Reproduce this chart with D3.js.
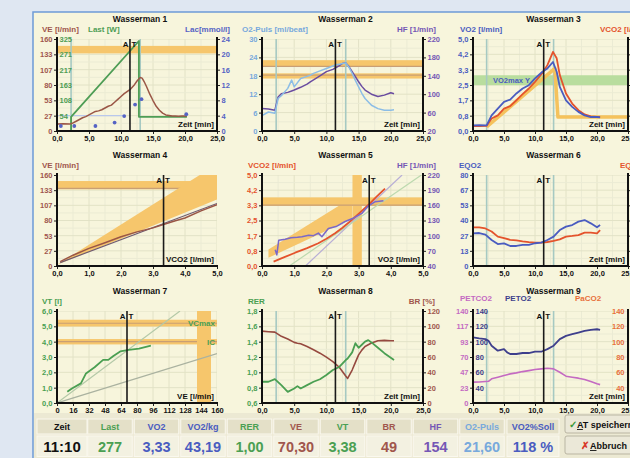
<!DOCTYPE html>
<html><head><meta charset="utf-8">
<script src="https://cdn.jsdelivr.net/npm/d3@7"></script>
<style>
html,body{margin:0;padding:0;background:#dfe7f2;}
svg{display:block;}
</style></head><body>
<svg id="c" width="630" height="458"></svg>
<script>
// ---------------- DATA ----------------
const atTime = 11.4;            // AT marker (11:10)
const phaseTimes = [2.2, 13.0];  // start / end of load
const timeTickLabels = ["0,0","5,0","10,0","15,0","20,0","25,0"];
const flowTickLabels = ["0,0","1,0","2,0","3,0","4,0","5,0"];
const veTickLabels7 = ["0","16","32","48","64","80","96","112","128","144","160"];

// Wasserman 1
const w1VeLabels = ["0","27","53","80","107","133","160"];
const w1LastLabels = ["","54","108","163","217","271","325"];
const w1LacLabels = ["0","4","8","12","16","20","24"];
const w1Time = [0,1,2,2.5,3,3.5,4,4.5,5,5.5,6,6.5,7,7.5,8,8.5,9,9.5,10,10.5,11,11.5,12,12.5,13,13.3,13.7,14,14.5,15,15.5,16,16.5,17,17.5,18,18.5,19,19.5,20,20.3];
const w1VE = [12,12.5,12,14,17,20,23,25,28,31,34,35,37,40,43,45,50,55,60,65,69,73,79,87,93,92,84,77,64,53,43,36,31,28,27,26,26,25.5,26,26,26];
const w1LastTime = [2.2,2.2,12.8,12.8,20.3];
const w1Last = [0,50,318,50,50];
const w1LacTime = [0.6,2.7,6.0,9.0,10.5,12.2,13.2,20.2];
const w1Lac = [1.3,1.3,1.3,2.2,3.9,6.9,8.3,4.4];
const w1LacRef = 4;
const w1VeBand = [135,148];

// Wasserman 2
const w2O2pLabels = ["0","6","12","18","24","30"];
const w2HfLabels = ["20","60","100","140","180","220"];
const w2Time = [0,1,2,2.5,3,4,4.6,5,6,7,7.5,8,9,10,11,11.5,12,12.5,13,13.5,14,14.5,15,15.5,16,17,18,19,20,20.5];
const w2O2p = [5.0,6.2,5.8,10.6,11.5,13.9,16.6,14.4,17.1,17.8,18.2,18.8,19.6,20.4,21.2,21.6,21.8,22.0,22.2,20.8,18.8,16.5,14.4,12.3,10.6,8.4,7.3,6.8,6.8,6.9];
const w2HF = [69,68,65,94,101,104,107,109,115,122,127,131,140,149,154,158,162,167,168,160,149,138,127,117,109,100,95,98,103,101];
const w2Bands = [[20.9,23.1,21.1],[17.1,18.8,18.2]];

// Wasserman 3
const w3Labels = ["0,0","0,8","1,7","2,5","3,3","4,2","5,0"];
const w3Time = [0,1,2.2,3,4,5,6,7,8,9,10,11.2,12,12.9,13.5,14,15,16,17,18,19,20,20.5];
const w3VO2 = [0.31,0.32,0.31,0.85,1.22,1.58,1.71,2.04,2.31,2.49,2.86,3.22,3.40,3.75,3.22,2.40,1.67,1.31,1.04,0.85,0.76,0.76,0.74];
const w3VCO2 = [0.26,0.27,0.28,0.68,0.85,1.22,1.35,1.67,2.0,2.31,2.67,3.16,3.58,4.3,3.95,3.04,2.04,1.49,1.13,0.9,0.8,0.76,0.76];
const w3TargetTime = [2.2,13.2,13.7,25];
const w3Target = [0.22,3.4,0.76,0.76];
const w3Vo2maxBand = [2.49,3.03];

// Wasserman 4
const w4VeLabels = ["0","27","53","80","107","133","160"];
const w4VCO2 = [0.1,0.5,1.0,1.5,2.0,2.5,3.0,3.35,3.7,4.0,4.5,5.0];
const w4VE = [7.6,19,31,41,51.5,60,67,73.5,79.5,84.5,97,108];
const w4RefX = [0.1,5.0];
const w4RefY = [6,110];
const w4Band = [134.8,149.4,136.5,3.98];
const w4WedgeX = [0,4.46,5,5];
const w4WedgeY = [2,160,160,117];
const w4AT = 3.33;

// Wasserman 5
const w5VcoLabels = ["0,0","0,8","1,7","2,5","3,3","4,2","5,0"];
const w5HfLabels = ["40","70","100","130","160","190","220"];
const w5VO2 = [0.36,0.6,1.03,1.4,1.75,2.0,2.27,2.5,2.79,3.05,3.30,3.55,3.82];
const w5VCO2 = [0.24,0.42,0.73,0.98,1.25,1.5,1.80,2.1,2.53,2.95,3.35,3.8,4.25];
const w5HfVO2 = [0.41,0.44,0.46,0.52,0.72,0.9,1.1,1.24,1.45,1.6,1.75,1.86,2.06,2.3,2.58,2.85,3.10,3.30,3.51,3.65,3.77];
const w5HF = [72,66,62,91,93,96,97,98,101,100,105,98,114,118,128,135,144,159,167,168,169];
const w5HBand = [3.31,3.77,3.35];
const w5VBand = [2.81,3.10];
const w5WedgeX = [0.2,0.2,2.8,2.8];
const w5WedgeY = [0.45,0.9,3.77,2.6];
const w5RefA = [[1.35,0],[4.35,5.0]];
const w5RefB = [[0.85,0],[4.95,5.0]];
const w5AT = 3.33;

// Wasserman 6
const w6Labels = ["0","13","27","40","53","67","80"];
const w6Time = [0,1,2,3,4,5,6,7,8,9,10,11,12,13,14,15,16,17,18,19,20,20.5];
const w6EQO2 = [28.7,29,27.6,22.9,19.3,19.9,17.6,17.6,18.5,18.5,20,20.5,22.9,25.8,31.6,34.6,36,39,40.4,37.5,34,36];
const w6EQCO2 = [34,34,33,30.3,25.8,24.6,23,22.6,21.7,21,20.5,20.5,21.1,22,23.4,25.8,26.4,27.2,29.3,29.3,28.7,31.6];

// Wasserman 7
const w7Labels = ["0,0","1,0","2,0","3,0","4,0","5,0","6,0"];
const w7VE = [10.3,14.9,23.9,29,37.6,46.1,51.3,56.4,63.2,71.8,82,93.9];
const w7VT = [0.73,0.95,1.28,1.93,2.33,2.81,2.81,3.07,3.36,3.47,3.54,3.74];
const w7RefA = [[0,0],[123,6.0]];
const w7RefB = [[0,0],[160,3.22]];
const w7VcBand = [4.99,5.43,5.2];
const w7IcBand = [3.82,4.17,4.0];
const w7VeBand = [140,154];
const w7AT = 70;

// Wasserman 8
const w8RerLabels = ["0,6","0,8","1,0","1,2","1,4","1,6","1,8"];
const w8BrLabels = ["0","20","40","60","80","100","120"];
const w8Time = [0,1,2,3,4,5,5.5,6,7,8,9,10,11,12,13,13.3,14,14.5,15,15.5,16,16.5,17,18,19,20,20.5];
const w8RER = [0.877,0.877,0.912,0.833,0.745,0.79,0.82,0.79,0.833,0.877,0.91,0.965,1.03,1.07,1.16,1.18,1.26,1.38,1.32,1.36,1.40,1.42,1.39,1.32,1.25,1.19,1.16];
const w8BR = [93.7,93,92.4,87,83.5,79.1,78,77.3,73.8,69.4,65,59.8,54,46.6,35.2,32.1,43,53,62.8,69,73.8,76,78.2,81.2,81.7,81.2,81.2];

// Wasserman 9
const w9PetcoLabels = ["0","23","47","70","93","117","140"];
const w9PetoLabels = ["","40","60","80","100","120","140"];
const w9PacoLabels = ["","40","60","80","100","120","140"];
const w9Time = [0,1,2,2.5,3,4,5,5.5,6,7,8,9,10,11,12,13,14,15,16,17,18,19,20,20.5];
const w9PETO2 = [105.5,104.2,103.3,101.1,94.7,88.2,90.3,86,83.9,83.9,85.2,85.2,86.9,86.9,90.3,94.7,103.3,107.6,109.8,111.9,114.1,115.4,116.2,115.4];
const w9PETCO2 = [31.7,32,32.7,33,36.8,39.3,41.8,43,44.3,45.8,47.8,49.3,50.9,51.9,52.9,51.9,46.8,40.8,39.3,37.8,35.8,32.7,29.2,28];

// Table
const tblHeads = ["Zeit","Last","VO2","VO2/kg","RER","VE","VT","BR","HF","O2-Puls","VO2%Soll"];
const tblVals = ["11:10","277","3,33","43,19","1,00","70,30","3,38","49","154","21,60","118 %"];

// ---------------- STYLE / LAYOUT ----------------
const FF = '"Liberation Sans", Arial, sans-serif';
const C = {ve:'#a0564c', veLine:'#9a5646', last:'#4e9d55', lac:'#5563c4', o2p:'#78a9dc', o2pLine:'#8cbde6',
  hf:'#7557b5', hfLine:'#6a4ca0', vo2:'#4a5cc0', vco2:'#e4532c', green:'#4a9f52', br:'#96493f',
  petco2:'#c46ac2', peto2:'#3e3f8c', paco2:'#e8703a', orange:'#f6c66c', bandLine:'#c99f74',
  greenBand:'#b9dd9e', phase:'#a6c9c2', grid:'#e2e2c6', grid2:'#ebebd4'};
const cols = [[57,217],[262,423],[473,628]];
const rows = [[39,131],[175,266],[311,403]];
const tblCenters = [62,110,156.5,203,249.5,296,342.5,389,435.5,482,533];
const tblWidths = [50,44.5,44.5,44.5,44.5,44.5,44.5,44.5,44.5,44.5,52];
const tblHeadColors = ['#111',C.green,C.vo2,C.vo2,C.green,C.ve,C.green,C.ve,C.hf,C.o2p,C.vo2];

const svg = d3.select('#c').attr('font-family',FF);
svg.append('rect').attr('width',630).attr('height',458).attr('fill','#dfe7f2');
svg.append('rect').attr('x',33).attr('y',12).attr('width',620).attr('height',460)
  .attr('fill','#f7f5dc').attr('stroke','#6e9bd6').attr('stroke-width',1.5);
svg.append('rect').attr('x',34).attr('y',413).attr('width',600).attr('height',50).attr('fill','#ece9d3');
const defs = svg.append('defs');

function ticksOf(dom,n){return d3.range(n).map(i=>dom[0]+i*(dom[1]-dom[0])/(n-1));}

function P(ci,ri,xDom,xLabels,halfGrid=true){
  const [x0,x1]=cols[ci],[y0,y1]=rows[ri];
  const x=d3.scaleLinear().domain(xDom).range([x0,x1]);
  const cid='cp'+ci+'_'+ri;
  defs.append('clipPath').attr('id',cid).append('rect').attr('x',x0).attr('y',y0).attr('width',x1-x0).attr('height',y1-y0);
  const g=svg.append('g'); const L={};
  ['grid','band','phase','data','at','axis','text'].forEach(k=>{L[k]=g.append('g'); if(k!=='axis'&&k!=='text') L[k].attr('clip-path',`url(#${cid})`);});
  return {x,x0,x1,y0,y1,L,xDom,xLabels,halfGrid,ys:dom=>d3.scaleLinear().domain(dom).range([y1,y0])};
}
function grid(p,y,nY){
  const m=p.halfGrid?2:1;
  const xv=ticksOf(p.xDom,(p.xLabels.length-1)*m+1), yv=ticksOf(y.domain(),(nY-1)*m+1);
  p.L.grid.selectAll('.gx').data(xv).join('line').attr('x1',d=>p.x(d)).attr('x2',d=>p.x(d)).attr('y1',p.y0).attr('y2',p.y1)
    .attr('stroke',(d,i)=>i%m?C.grid2:C.grid).attr('stroke-width',1);
  p.L.grid.selectAll('.gy').data(yv).join('line').attr('y1',d=>y(d)).attr('y2',d=>y(d)).attr('x1',p.x0).attr('x2',p.x1)
    .attr('stroke',(d,i)=>i%m?C.grid2:C.grid).attr('stroke-width',1);
}
function styleAxis(a,color){
  a.attr('font-family',FF).attr('font-size',7.5).attr('font-weight','bold');
  a.select('.domain').remove();
  a.selectAll('.tick line').attr('stroke','#222');
  a.selectAll('.tick text').attr('fill',color);
}
function axisX(p,name){
  const vals=ticksOf(p.xDom,p.xLabels.length);
  const a=p.L.axis.append('g').attr('transform',`translate(0,${p.y1})`)
    .call(d3.axisBottom(p.x).tickValues(vals).tickFormat((d,i)=>p.xLabels[i]).tickSize(3).tickPadding(1.5));
  styleAxis(a,'#111');
  p.L.axis.append('line').attr('x1',p.x0-1).attr('x2',p.x1+1).attr('y1',p.y1).attr('y2',p.y1).attr('stroke','#111').attr('stroke-width',2);
  txt(p.L.text,p.x1-3,p.y1-4,name,{a:'end',fs:8});
}
function axisY(p,y,labels,color,side){
  const vals=ticksOf(y.domain(),labels.length);
  let ax,xpos;
  if(side==='left'){ax=d3.axisLeft(y).tickSize(3).tickPadding(1.5);xpos=p.x0;}
  else if(side==='leftIn'){ax=d3.axisRight(y).tickSize(0).tickPadding(2.5);xpos=p.x0;}
  else if(side==='right'){ax=d3.axisRight(y).tickSize(3).tickPadding(1.5);xpos=p.x1;}
  else {ax=d3.axisLeft(y).tickSize(0).tickPadding(3.5);xpos=p.x1;}
  ax.tickValues(vals).tickFormat((d,i)=>labels[i]);
  const a=p.L.axis.append('g').attr('transform',`translate(${xpos},0)`).call(ax);
  styleAxis(a,color);
}
// right axis ticks only (its labels lie outside the visible window)
function axisTicksRight(p,y,n){
  const a=p.L.axis.append('g').attr('transform',`translate(${p.x1},0)`)
    .call(d3.axisRight(y).tickValues(ticksOf(y.domain(),n)).tickFormat('').tickSize(3));
  styleAxis(a,'#111');
}
function vLine(p,xpos){p.L.axis.append('line').attr('x1',xpos).attr('x2',xpos).attr('y1',p.y0-2).attr('y2',p.y1+1).attr('stroke','#111').attr('stroke-width',2);}
function txt(layer,x,y,s,o={}){
  return layer.append('text').attr('x',x).attr('y',y).text(s).attr('fill',o.c||'#111')
    .attr('font-size',o.fs||8).attr('font-weight','bold').attr('text-anchor',o.a||'start');
}
function title(p,s){txt(p.L.text,(p.x0+p.x1)/2+3,p.y0-17,s,{a:'middle',fs:8.5});}
function lineGen(p,y){return d3.line().x(d=>p.x(d[0])).y(d=>y(d[1]));}
function series(p,y,xs,vs,color,w){
  const pts=xs.map((v,i)=>[v,vs[i]]);
  p.L.data.append('path').attr('d',lineGen(p,y)(pts))
    .attr('fill','none').attr('stroke',color).attr('stroke-width',w||1.6).attr('stroke-linejoin','round');
}
function refLine(p,y,pts,color,w){
  p.L.band.append('path').attr('d',lineGen(p,y)(pts))
    .attr('fill','none').attr('stroke',color).attr('stroke-width',w||1);
}
function hband(p,y,lo,hi,fill,lineV,lineTo){
  p.L.band.append('rect').attr('x',p.x0).attr('width',p.x1-p.x0).attr('y',y(hi)).attr('height',y(lo)-y(hi)).attr('fill',fill);
  if(lineV!=null) p.L.band.append('line').attr('x1',p.x0).attr('x2',lineTo!=null?p.x(lineTo):p.x1).attr('y1',y(lineV)).attr('y2',y(lineV))
    .attr('stroke',C.bandLine).attr('stroke-width',1.2);
}
function vband(p,lo,hi,fill){
  p.L.band.append('rect').attr('y',p.y0).attr('height',p.y1-p.y0).attr('x',p.x(lo)).attr('width',p.x(hi)-p.x(lo)).attr('fill',fill);
}
function poly(p,y,xs,vs,fill){
  const pts=xs.map((v,i)=>[v,vs[i]]);
  p.L.band.append('path').attr('d',lineGen(p,y)(pts)+'Z').attr('fill',fill);
}
function phases(p){
  p.L.phase.selectAll('line').data(phaseTimes).join('line').attr('x1',d=>p.x(d)).attr('x2',d=>p.x(d))
    .attr('y1',p.y0).attr('y2',p.y1).attr('stroke',C.phase).attr('stroke-width',1.6);
}
function at(p,v){
  const xx=p.x(v);
  p.L.at.append('line').attr('x1',xx).attr('x2',xx).attr('y1',p.y0).attr('y2',p.y1).attr('stroke','#1a1a1a').attr('stroke-width',1.6);
  txt(p.L.text,xx-1.5,p.y0+8,'A',{a:'end',fs:8});
  txt(p.L.text,xx+1.5,p.y0+8,'T',{fs:8});
}

// ---------------- Wasserman 1 ----------------
{
  const p=P(0,0,[0,25],timeTickLabels);
  const yVE=p.ys([0,160]), yLast=p.ys([0,325]), yLac=p.ys([0,24]);
  grid(p,yVE,w1VeLabels.length);
  hband(p,yVE,w1VeBand[0],w1VeBand[1],C.orange);
  phases(p);
  p.L.data.append('line').attr('x1',p.x(0)).attr('x2',p.x(w1LacTime[4])).attr('y1',yLac(w1LacRef)).attr('y2',yLac(w1LacRef)).attr('stroke','#b9c8ec').attr('stroke-width',1.2);
  series(p,yLast,w1LastTime,w1Last,C.last,1.8);
  series(p,yVE,w1Time,w1VE,C.veLine,1.5);
  p.L.data.selectAll('circle').data(w1LacTime).join('circle').attr('cx',d=>p.x(d)).attr('cy',(d,i)=>yLac(w1Lac[i])).attr('r',1.9).attr('fill',C.lac);
  at(p,atTime);
  axisY(p,yVE,w1VeLabels,C.ve,'left');
  axisY(p,yLast,w1LastLabels,C.last,'leftIn');
  axisY(p,yLac,w1LacLabels,C.lac,'right');
  vLine(p,p.x0); vLine(p,p.x1);
  axisX(p,'Zeit [min]');
  title(p,'Wasserman 1');
  txt(p.L.text,p.x0-15,p.y0-7,'VE [l/min]',{c:C.ve});
  txt(p.L.text,p.x0+31,p.y0-7,'Last [W]',{c:C.last});
  txt(p.L.text,p.x1+13,p.y0-7,'Lac[mmol/l]',{c:C.lac,a:'end'});
}
// ---------------- Wasserman 2 ----------------
{
  const p=P(1,0,[0,25],timeTickLabels);
  const yO=p.ys([0,30]), yH=p.ys([20,220]);
  grid(p,yO,w2O2pLabels.length);
  w2Bands.forEach(b=>hband(p,yO,b[0],b[1],C.orange,b[2]));
  phases(p);
  series(p,yH,w2Time,w2HF,C.hfLine,1.5);
  series(p,yO,w2Time,w2O2p,C.o2pLine,1.5);
  at(p,atTime);
  axisY(p,yO,w2O2pLabels,C.o2p,'left');
  axisY(p,yH,w2HfLabels,C.hf,'right');
  vLine(p,p.x0); vLine(p,p.x1);
  axisX(p,'Zeit [min]');
  title(p,'Wasserman 2');
  txt(p.L.text,p.x0-20,p.y0-7,'O2-Puls [ml/beat]',{c:C.o2p});
  txt(p.L.text,p.x1+13,p.y0-7,'HF [1/min]',{c:C.hf,a:'end'});
}
// ---------------- Wasserman 3 ----------------
{
  const p=P(2,0,[0,25],timeTickLabels);
  const y=p.ys([0,5]);
  grid(p,y,w3Labels.length);
  hband(p,y,w3Vo2maxBand[0],w3Vo2maxBand[1],C.greenBand);
  phases(p);
  series(p,y,w3TargetTime,w3Target,'#f5c25c',3.5);
  series(p,y,w3Time,w3VCO2,C.vco2,1.8);
  series(p,y,w3Time,w3VO2,C.vo2,1.8);
  at(p,atTime);
  axisY(p,y,w3Labels,C.vo2,'left');
  axisTicksRight(p,y,w3Labels.length);
  vLine(p,p.x0); vLine(p,p.x1);
  axisX(p,'Zeit [min]');
  title(p,'Wasserman 3');
  txt(p.L.text,p.x0+20,y(2.76)+3,'VO2max Y',{c:C.vo2,fs:7.5});
  txt(p.L.text,p.x0-13,p.y0-7,'VO2 [l/min]',{c:C.vo2});
  txt(p.L.text,p.x1-28,p.y0-7,'VCO2 [l/min]',{c:C.vco2});
}
// ---------------- Wasserman 4 ----------------
{
  const p=P(0,1,[0,5],flowTickLabels);
  const y=p.ys([0,160]);
  grid(p,y,w4VeLabels.length);
  hband(p,y,w4Band[0],w4Band[1],C.orange,w4Band[2],w4Band[3]);
  poly(p,y,w4WedgeX,w4WedgeY,C.orange);
  series(p,y,w4RefX,w4RefY,'#6e5a70',1.2);
  series(p,y,w4VCO2,w4VE,C.veLine,1.5);
  at(p,w4AT);
  axisY(p,y,w4VeLabels,C.ve,'left');
  vLine(p,p.x0);
  axisX(p,'VCO2 [l/min]');
  title(p,'Wasserman 4');
  txt(p.L.text,p.x0-15,p.y0-7,'VE [l/min]',{c:C.ve});
}
// ---------------- Wasserman 5 ----------------
{
  const p=P(1,1,[0,5],flowTickLabels);
  const y=p.ys([0,5]), yH=p.ys([40,220]);
  grid(p,y,w5VcoLabels.length);
  poly(p,y,w5WedgeX,w5WedgeY,C.orange);
  vband(p,w5VBand[0],w5VBand[1],C.orange);
  hband(p,y,w5HBand[0],w5HBand[1],C.orange,w5HBand[2]);
  refLine(p,y,w5RefA,'#b8aed6',1.2);
  refLine(p,y,w5RefB,'#bcd9ae',1.2);
  series(p,y,w5VO2,w5VCO2,C.vco2,1.8);
  series(p,yH,w5HfVO2,w5HF,'#7a68c8',1.5);
  at(p,w5AT);
  axisY(p,y,w5VcoLabels,C.vco2,'left');
  axisY(p,yH,w5HfLabels,C.hf,'right');
  vLine(p,p.x0); vLine(p,p.x1);
  axisX(p,'VO2 [l/min]');
  title(p,'Wasserman 5');
  txt(p.L.text,p.x0-14,p.y0-7,'VCO2 [l/min]',{c:C.vco2});
  txt(p.L.text,p.x1+13,p.y0-7,'HF [1/min]',{c:C.hf,a:'end'});
}
// ---------------- Wasserman 6 ----------------
{
  const p=P(2,1,[0,25],timeTickLabels);
  const y=p.ys([0,80]);
  grid(p,y,w6Labels.length);
  phases(p);
  series(p,y,w6Time,w6EQCO2,C.vco2,1.8);
  series(p,y,w6Time,w6EQO2,C.vo2,1.8);
  at(p,atTime);
  axisY(p,y,w6Labels,C.vo2,'left');
  axisTicksRight(p,y,w6Labels.length);
  vLine(p,p.x0); vLine(p,p.x1);
  axisX(p,'Zeit [min]');
  title(p,'Wasserman 6');
  txt(p.L.text,p.x0-14,p.y0-7,'EQO2',{c:C.vo2});
  txt(p.L.text,p.x1-8,p.y0-7,'EQCO2',{c:C.vco2});
}
// ---------------- Wasserman 7 ----------------
{
  const p=P(0,2,[0,160],veTickLabels7,false);
  const y=p.ys([0,6]);
  grid(p,y,w7Labels.length);
  hband(p,y,w7VcBand[0],w7VcBand[1],C.orange,w7VcBand[2]);
  hband(p,y,w7IcBand[0],w7IcBand[1],C.orange,w7IcBand[2]);
  vband(p,w7VeBand[0],w7VeBand[1],C.orange);
  refLine(p,y,w7RefA,'#b4c9a8',1.2);
  refLine(p,y,w7RefB,'#aab2a0',1.2);
  series(p,y,w7VE,w7VT,C.green,1.8);
  at(p,w7AT);
  axisY(p,y,w7Labels,C.green,'left');
  vLine(p,p.x0);
  axisX(p,'VE [l/min]');
  title(p,'Wasserman 7');
  txt(p.L.text,p.x1-2,y(w7VcBand[2])+3,'VCmax',{c:C.green,a:'end'});
  txt(p.L.text,p.x1-2,y(w7IcBand[2])+3,'IC',{c:C.green,a:'end'});
  txt(p.L.text,p.x0-15,p.y0-7,'VT [l]',{c:C.green});
}
// ---------------- Wasserman 8 ----------------
{
  const p=P(1,2,[0,25],timeTickLabels);
  const y=p.ys([0.6,1.8]), yB=p.ys([0,120]);
  grid(p,y,w8RerLabels.length);
  phases(p);
  series(p,yB,w8Time,w8BR,C.br,1.6);
  series(p,y,w8Time,w8RER,C.green,1.8);
  at(p,atTime);
  axisY(p,y,w8RerLabels,C.green,'left');
  axisY(p,yB,w8BrLabels,C.ve,'right');
  vLine(p,p.x0); vLine(p,p.x1);
  axisX(p,'Zeit [min]');
  title(p,'Wasserman 8');
  txt(p.L.text,p.x0-14,p.y0-7,'RER',{c:C.green});
  txt(p.L.text,p.x1+12,p.y0-7,'BR [%]',{c:C.ve,a:'end'});
}
// ---------------- Wasserman 9 ----------------
{
  const p=P(2,2,[0,25],timeTickLabels);
  const yC=p.ys([0,140]), yO=p.ys([20,140]);
  grid(p,yC,w9PetcoLabels.length);
  phases(p);
  series(p,yC,w9Time,w9PETCO2,C.petco2,1.6);
  series(p,yO,w9Time,w9PETO2,C.peto2,1.8);
  at(p,atTime);
  axisY(p,yC,w9PetcoLabels,C.petco2,'left');
  axisY(p,yO,w9PetoLabels,C.peto2,'leftIn');
  axisY(p,yO,w9PacoLabels,C.paco2,'rightIn');
  vLine(p,p.x0); vLine(p,p.x1);
  axisX(p,'Zeit [min]');
  title(p,'Wasserman 9');
  txt(p.L.text,p.x0-13,p.y0-10,'PETCO2',{c:C.petco2});
  txt(p.L.text,p.x0+32,p.y0-10,'PETO2',{c:C.peto2});
  txt(p.L.text,p.x1-53,p.y0-10,'PaCO2',{c:C.paco2});
}

// ---------------- Table ----------------
{
  const t=svg.append('g');
  tblHeads.forEach((h,i)=>{
    const cx=tblCenters[i], w=tblWidths[i];
    t.append('rect').attr('x',cx-w/2).attr('y',419).attr('width',w).attr('height',15).attr('fill','#e4e0c8').attr('stroke','#faf8ee').attr('stroke-width',1);
    t.append('rect').attr('x',cx-w/2).attr('y',436).attr('width',w).attr('height',20.5).attr('fill','#f3f1e1').attr('stroke','#faf8ee').attr('stroke-width',1);
    txt(t,cx,430,h,{a:'middle',fs:9,c:tblHeadColors[i]});
    txt(t,cx,452,tblVals[i],{a:'middle',fs:i===0?15:14.5,c:tblHeadColors[i]});
  });
  // buttons
  [[415,'\u2713','#3a9a3a','AT speichern'],[436,'\u2717','#d83a2a','Abbruch']].forEach((b,i)=>{
    t.append('rect').attr('x',565).attr('y',b[0]).attr('width',80).attr('height',18).attr('rx',2)
      .attr('fill','#ebe8d8').attr('stroke','#b9b5a2').attr('stroke-width',1);
    txt(t,i===0?569:581,b[0]+13,b[1],{c:b[2],fs:10});
    const tx=txt(t,i===0?577:590,b[0]+13,'',{fs:9});
    tx.append('tspan').attr('text-decoration','underline').text(b[3][0]);
    tx.append('tspan').text(b[3].slice(1));
  });
}
</script></body></html>
